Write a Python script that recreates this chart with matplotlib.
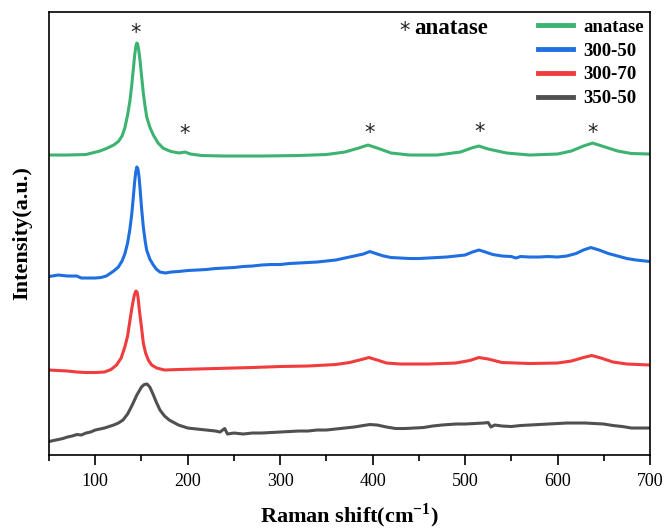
import numpy as np
import matplotlib
matplotlib.use('Agg')
from matplotlib import pyplot as plt

# Config
SERIF = 'Liberation Serif'
plt.rcParams['font.family'] = SERIF
plt.rcParams['mathtext.fontset'] = 'custom'
plt.rcParams['mathtext.rm'] = SERIF
plt.rcParams['mathtext.bf'] = SERIF + ':bold'

labels = ['anatase', '300-50', '300-70', '350-50']
colors = ['#3cb371', '#1f6fe0', '#f03c3c', '#505050']

# Raman spectra (shift in cm-1, stacked intensity in a.u.)
anatase_x = [50, 70, 90, 105, 112, 120, 125, 129, 132, 135, 137.5, 139.5, 141.5, 142.8, 144, 145,
             146, 147.2, 148.4, 150, 152, 154, 155.7, 159, 162.8, 168, 173.6, 182, 191, 197,
             203, 215, 240, 280, 320, 350, 370, 385, 395, 405, 420, 440, 470, 495, 507, 515,
             525, 545, 570, 600, 615, 628, 638, 648, 665, 680, 700]
anatase_y = [302, 302, 302.5, 306, 308.5, 312, 315.5, 321, 329, 342, 356, 372, 391, 403, 411, 414,
             412.5, 406, 397, 382, 364, 350, 340, 330, 322, 314, 308.7, 305.5, 304, 305,
             303, 301.5, 301, 301, 301.5, 302.5, 305, 309, 312, 309, 304, 302, 302, 305, 309, 311,
             308, 304, 302, 303, 306, 311, 314, 311, 306, 303.5, 303]

s300_50_x = [50, 60, 70, 80, 85, 90, 100, 106, 112, 120, 125, 129, 132, 135, 137.5, 139.4, 141,
             142.5, 143.8, 145, 146.2, 147.4, 148.6, 150, 152, 154, 155.6, 159, 162.8, 166,
             170, 176, 182, 190, 200, 210, 220, 230, 240, 250, 260, 270, 280, 290, 300, 310,
             320, 330, 340, 350, 360, 370, 380, 390, 397, 405, 412, 420, 430, 440, 450, 460,
             470, 480, 490, 500, 508, 515, 522, 530, 540, 550, 555, 560, 570, 580, 590, 600,
             610, 620, 628, 636, 645, 655, 665, 675, 685, 700]
s300_50_y = [180.5, 182, 181, 181, 179, 179, 179, 179.5, 181, 186, 190, 196, 203, 214, 228, 242, 258,
             274, 285, 290, 288, 280, 267, 250, 230, 216, 207, 198, 192, 188,
             185, 184, 185, 185.5, 186.5, 187, 187.5, 188.5, 189, 189.5, 190.5, 191, 192, 192.5, 192.5, 193.5,
             194, 194.5, 195, 196, 197, 199, 201, 203, 205.5, 203, 201, 199.5, 199, 198.5, 198.5, 199,
             199.5, 200, 201, 202, 205, 207, 205, 202.5, 201, 200.5, 199, 200.5, 200, 200, 200.5, 200,
             201, 203.5, 207, 209.5, 207, 203.5, 201, 198.5, 197, 195.5]

s300_70_x = [50, 60, 70, 80, 90, 100, 110, 117, 123, 128, 132, 135, 137.6, 139.8, 141.5, 142.8,
             144, 145.2, 146.4, 147.7, 150, 152, 154.5, 157.4, 161, 166.5, 175, 190, 210, 230,
             250, 270, 300, 330, 360, 375, 388, 396, 405, 415, 430, 460, 490, 505, 515, 525,
             540, 570, 600, 615, 628, 637, 647, 660, 675, 700]
s300_70_y = [87, 86.5, 86, 85, 84.5, 84.5, 85, 87.5, 92, 99, 110, 121, 137, 150, 158.5, 163.5,
             166, 165, 159, 147, 130, 114, 104, 97, 92, 89, 87, 87.5, 88, 88.5,
             89, 89.5, 90.5, 91, 92.5, 94.5, 97.5, 99.5, 97, 94, 93, 93, 94, 96.5, 99.5, 98,
             94.5, 93.5, 94, 96, 99.5, 101.5, 99, 95, 93, 92]

s350_50_x = [50, 55, 60, 65, 70, 75, 80, 85, 90, 95, 100, 105, 110, 115, 120, 125, 130, 135,
             140, 145, 150, 153, 156, 159, 162, 166, 170, 175, 180, 190, 200, 210, 220, 230,
             235, 240, 243, 250, 260, 270, 280, 290, 300, 310, 320, 330, 340, 350, 360, 370,
             380, 390, 397, 405, 415, 425, 435, 445, 455, 465, 475, 490, 500, 510, 520, 525,
             528, 532, 540, 550, 560, 570, 580, 590, 600, 610, 620, 630, 640, 650, 660, 670,
             680, 690, 700]
s350_50_y = [15.5, 16.5, 17.5, 18.5, 20, 21, 22.5, 22, 24, 25, 27, 28, 29, 30.5, 32, 34, 37, 43,
             52, 62, 70, 72.5, 73, 70, 64, 55, 47, 41, 37, 32, 29, 28, 27, 26,
             25, 28.5, 23, 24, 23, 24, 24, 24.5, 25, 25.5, 26, 26, 27, 27, 28, 29,
             30, 31.5, 32.5, 32, 30, 28.5, 28.5, 29, 29.5, 31, 32, 33, 33, 33.5, 34, 34.5,
             30, 32, 31, 30.5, 31.5, 32, 32.5, 33, 33.5, 34, 34, 34, 33.5, 33, 31.5, 30.5,
             29, 29, 29]

# anatase peaks marked with a star: (shift, height of star)
star_x = [144, 197, 397, 516, 638]
star_y = [424, 323, 324, 325, 324]

series = [(anatase_x, anatase_y), (s300_50_x, s300_50_y),
          (s300_70_x, s300_70_y), (s350_50_x, s350_50_y)]

fig = plt.figure(figsize=(6.65, 5.32), dpi=100)
ax = fig.add_axes([0.0737, 0.1447, 0.9037, 0.8327])

for (xs, ys), lab, col in zip(series, labels, colors):
    ax.plot(xs, ys, color=col, lw=2.2, label=lab)

for sx, sy in zip(star_x, star_y):
    ax.text(sx, sy, '*', ha='center', va='center', fontsize=15,
            family='DejaVu Sans', color='#222222')

ax.text(0.592, 0.958, '*', transform=ax.transAxes, ha='center', va='center',
        fontsize=15, family='DejaVu Sans', color='#222222')
ax.text(0.607, 0.963, 'anatase', transform=ax.transAxes, ha='left', va='center',
        fontsize=16.5, fontweight='bold')

ax.set_xlim(50, 700)
ax.set_ylim(2, 445)
ax.set_yticks([])
ax.set_xticks(np.arange(100, 701, 100))
ax.set_xticks(np.arange(50, 701, 100), minor=True)
ax.tick_params(axis='x', which='major', direction='out', length=7, width=1.2,
               labelsize=13, pad=6)
ax.tick_params(axis='x', which='minor', direction='out', length=4, width=1.2)
for sp in ax.spines.values():
    sp.set_linewidth(1.2)

ax.set_xlabel(r'Raman shift(cm$^{\mathbf{-1}}$)', fontsize=16, fontweight='bold', labelpad=8)
ax.set_ylabel('Intensity(a.u.)', fontsize=16, fontweight='bold', labelpad=12)

leg = ax.legend(loc='upper right', bbox_to_anchor=(1.0, 0.998), frameon=False,
                prop={'family': SERIF, 'weight': 'bold', 'size': 13.5},
                handlelength=1.9, handletextpad=0.55, labelspacing=0.36,
                borderaxespad=0.0, borderpad=0.3)
for h in leg.get_lines():
    h.set_linewidth(3.5)

fig.savefig('out.png', dpi=100)
